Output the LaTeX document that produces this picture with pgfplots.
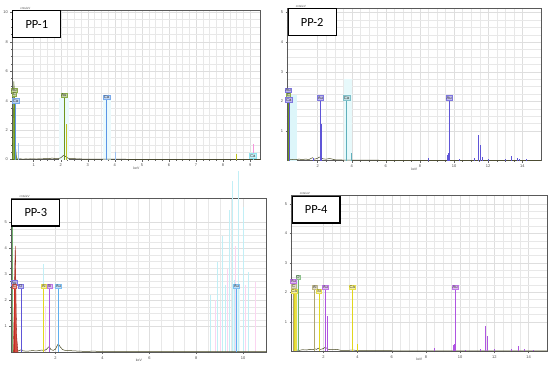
\documentclass[border=0pt]{standalone}
\usepackage{fontspec}
\setmainfont{Carlito}
\newfontfamily\arial{Liberation Sans}
\usepackage{pgfplots}
\pgfplotsset{compat=1.18}
\definecolor{base}{RGB}{70,70,30}
\definecolor{olive1}{RGB}{110,150,30}
\definecolor{blue1}{RGB}{90,150,230}
\definecolor{cyan1}{RGB}{120,220,235}
\definecolor{blue2}{RGB}{95,85,215}
\definecolor{red3}{RGB}{200,45,30}
\definecolor{yel}{RGB}{225,215,30}
\definecolor{purp}{RGB}{175,85,225}
\definecolor{khaki}{RGB}{175,165,110}
\definecolor{pinkA}{RGB}{245,150,220}
\pgfplotsset{
  eds/.style={scale only axis, anchor=south west, clip=false,
    axis line style={draw=black!65, line width=0.7pt},
    grid=both,
    major grid style={black!13, line width=0.3pt},
    minor grid style={black!9, line width=0.25pt},
    tick align=outside, major tick length=2bp, minor tick length=1bp,
    tick style={black!60, line width=0.3pt},
    xtick pos=bottom, ytick pos=left,
    /pgf/number format/assume math mode=true,
    tick label style={font=\arial\fontsize{4}{4}\selectfont, text=black!70},
    xticklabel style={yshift=1bp}, yticklabel style={xshift=1bp},
    ymin=0,
  },
  mk/.style={ycomb, draw=#1, solid, line width=0.6pt, mark=none, nodes near coords,
    point meta=explicit symbolic,
    every node near coord/.style={font=\arial\fontsize{4.2}{4.2}\selectfont, fill=#1!40, draw=#1!80, solid, inner sep=0.6bp, line width=0.3pt, anchor=south, text=black!80}},
  sp/.style={ycomb, draw=#1, solid, line width=0.55pt, mark=none},
}
\newcommand{\pplabel}[1]{\node[draw=black, line width=1.2pt, fill=white, minimum width=48bp, minimum height=27bp, anchor=north west, inner sep=0pt, font=\fontsize{12.5}{12.5}\selectfont] at (rel axis cs:0,1) {#1};}
\newcommand{\axlabels}{\node[font=\arial\fontsize{3}{3}\selectfont, text=black!70, anchor=south west, inner sep=0.5bp] at (rel axis cs:0.03,1) {cnts/eV};
\node[font=\arial\fontsize{3.5}{3.5}\selectfont, text=black!70, anchor=north, inner sep=0pt] at ([yshift=-7bp]rel axis cs:0.5,0) {keV};}
\begin{document}
\begin{tikzpicture}
\fill[white] (0bp,0bp) rectangle (550bp,367bp);
% ---------------- PP-1
\begin{axis}[eds, at={(11bp,207bp)}, width=249bp, height=150bp,
  xmin=0.21, xmax=9.39, ymax=10.15,
  xtick={1,...,9}, ytick={0,2,...,10}, minor x tick num=3, minor y tick num=3]
\addplot[fill=cyan1!15, draw=none] coordinates {(1.95,4.2)(2.3,4.2)} \closedcycle;
\addplot[fill=cyan1!15, draw=none] coordinates {(3.55,4.1)(3.85,4.1)} \closedcycle;
\addplot[fill=olive1!80, draw=olive1!60!black, line width=0.3pt] coordinates {(0.21,0)(0.23,1.5)(0.25,3.8)(0.27,5.3)(0.29,4.6)(0.31,2.5)(0.33,1.0)(0.36,0.3)(0.4,0)} \closedcycle;
\addplot[base, line width=0.5pt] coordinates {(0.4,0.04)(0.5,0.06)(0.6,0.03)(0.7,0.05)(0.8,0.04)(0.9,0.06)(1.0,0.05)(1.1,0.04)(1.2,0.06)(1.3,0.05)(1.4,0.07)(1.5,0.06)(1.6,0.08)(1.7,0.11)(1.8,0.06)(1.9,0.07)(2.0,0.12)(2.05,0.2)(2.1,0.28)(2.15,0.25)(2.2,0.2)(2.25,0.12)(2.3,0.08)(2.4,0.06)(2.5,0.07)(2.6,0.05)(2.7,0.06)(2.8,0.04)(3.0,0.04)(3.3,0.03)(3.6,0.03)(3.7,0.04)(4.0,0.03)(5,0.02)(6,0.02)(7,0.02)(8,0.02)(9,0.02)(9.39,0.02)};
\addplot[sp=blue1!60] coordinates {(0.45,1.1)(4.01,0.55)};
\addplot[sp=yel!70!olive1] coordinates {(2.2,2.4)(8.5,0.35)};
\addplot[sp=pinkA] coordinates {(9.1,1.05)};
\addplot[mk=olive1] coordinates {(0.28,4.55) [Au] (2.12,4.2) [Au]};
\addplot[mk=olive1] coordinates {(0.29,4.3) [C]};
\addplot[mk=blue1] coordinates {(0.33,3.85) [Ca] (3.69,4.1) [Ca]};
\addplot[mk=cyan1] coordinates {(9.1,0.12) [Ca]};
\pplabel{PP-1}
\axlabels
\end{axis}
% ---------------- PP-2
\begin{axis}[eds, at={(287bp,206bp)}, width=254bp, height=153bp,
  xmin=0.24, xmax=15.1, ymax=5.15,
  xtick={2,4,...,14}, ytick={1,...,5}, minor x tick num=3, minor y tick num=3]
\addplot[fill=cyan1!25, draw=none] coordinates {(0.24,2.2)(0.77,2.2)} \closedcycle;
\addplot[fill=cyan1!18, draw=none] coordinates {(3.55,2.75)(4.0,2.75)} \closedcycle;
\addplot[base, line width=0.5pt] coordinates {(0.3,0.05)(0.5,0.04)(0.7,0.03)(0.9,0.05)(1.1,0.04)(1.3,0.05)(1.5,0.04)(1.6,0.07)(1.7,0.1)(1.8,0.05)(1.9,0.06)(2.0,0.08)(2.1,0.12)(2.2,0.1)(2.3,0.06)(2.5,0.05)(2.7,0.07)(2.8,0.06)(3.0,0.03)(3.5,0.02)(4.5,0.02)(6,0.01)(8,0.01)(10,0.01)(12,0.01)(15.1,0.01)};
\addplot[sp=blue2] coordinates {(0.3,0.6)(2.2,1.25)(9.65,0.25)(9.6,0.2)(11.44,0.87)(11.56,0.53)(8.47,0.1)(10.3,0.06)(11.2,0.08)(11.65,0.12)(12.0,0.06)(13.0,0.07)(13.38,0.17)(13.7,0.08)(13.8,0.07)(14.25,0.05)(1.75,0.1)};
\addplot[sp=cyan1!80!black] coordinates {(4.0,0.27)};
\addplot[mk=blue2] coordinates {(0.27,2.3) [Au]};
\addplot[mk=olive1] coordinates {(0.29,2.12) [C]};
\addplot[mk=blue2] coordinates {(0.31,1.98) [Ca] (2.16,2.05) [Au] (9.71,2.05) [Au]};
\addplot[mk=cyan1!80!black] coordinates {(3.69,2.05) [Ca]};
\pplabel{PP-2}
\axlabels
\end{axis}
% ---------------- PP-3
\begin{axis}[eds, at={(10bp,14bp)}, width=256bp, height=154bp,
  xmin=0.11, xmax=11.0, ymax=5.93,
  xtick={2,4,...,10}, ytick={1,...,5}, minor x tick num=3, minor y tick num=3]
\addplot[fill=cyan1!18, draw=none] coordinates {(9.55,2.45)(9.85,2.45)} \closedcycle;
\addplot[sp=cyan1!45, line width=0.35pt] coordinates {(8.9,3.5)(9.1,4.5)(9.25,2.6)(9.4,5.5)(9.55,6.6)(9.8,7.0)(10.0,5.6)(10.2,3.1)(8.6,2.2)(1.45,3.4)(9.6,2.8)(0.15,4.5)};
\addplot[sp=pinkA!40, line width=0.35pt] coordinates {(8.8,2.0)(9.3,3.2)(9.65,4.1)(10.1,2.6)(10.5,2.7)(9.0,1.6)(1.55,1.8)};
\addplot[sp=olive1!60!cyan1] coordinates {(0.15,5.93)};
\addplot[fill=red3!85, draw=red3!70!black, line width=0.3pt] coordinates {(0.2,0)(0.23,1.5)(0.26,3.2)(0.28,4.1)(0.3,3.4)(0.32,1.6)(0.35,0.5)(0.4,0)} \closedcycle;
\addplot[base, line width=0.5pt] coordinates {(0.4,0.05)(0.5,0.08)(0.55,0.1)(0.6,0.05)(0.8,0.04)(1.0,0.06)(1.2,0.05)(1.4,0.08)(1.5,0.07)(1.6,0.1)(1.7,0.2)(1.75,0.18)(1.8,0.1)(1.9,0.07)(2.0,0.12)(2.05,0.22)(2.1,0.3)(2.15,0.28)(2.2,0.2)(2.3,0.1)(2.4,0.07)(2.6,0.06)(2.8,0.05)(3.0,0.04)(3.3,0.03)(3.6,0.04)(3.9,0.03)(4.5,0.02)(6,0.02)(8,0.02)(9.7,0.03)(11,0.02)};
\addplot[mk=blue2] coordinates {(0.22,2.6) [Au]};
\addplot[mk=red3] coordinates {(0.24,2.45) [C]};
\addplot[mk=blue2] coordinates {(0.52,2.45) [O]};
\addplot[mk=yel] coordinates {(1.49,2.45) [Al]};
\addplot[mk=purp] coordinates {(1.74,2.45) [Si]};
\addplot[mk=cyan1!80!blue] coordinates {(2.12,2.45) [Au] (9.71,2.45) [Au]};
\pplabel{PP-3}
\axlabels
\end{axis}
% ---------------- PP-4
\begin{axis}[eds, at={(291bp,15bp)}, width=256bp, height=156bp,
  xmin=0.14, xmax=15.08, ymax=5.28,
  xtick={2,4,...,14}, ytick={1,...,5}, minor x tick num=3, minor y tick num=3]
\addplot[fill=cyan1!20, draw=none] coordinates {(0.45,2.45)(0.6,2.45)} \closedcycle;
\addplot[fill=yel!80, draw=none] coordinates {(0.2,2.0)(0.45,2.0)} \closedcycle;
\addplot[base, line width=0.5pt] coordinates {(0.45,0.04)(0.6,0.03)(0.8,0.05)(1.0,0.04)(1.2,0.06)(1.4,0.05)(1.5,0.08)(1.6,0.06)(1.7,0.1)(1.8,0.06)(1.9,0.07)(2.0,0.09)(2.1,0.13)(2.2,0.1)(2.3,0.06)(2.5,0.05)(2.8,0.06)(3.0,0.03)(3.5,0.03)(3.7,0.04)(4.0,0.02)(5,0.02)(7,0.01)(9,0.01)(11,0.01)(13,0.01)(15.08,0.01)};
\addplot[sp=purp] coordinates {(2.2,1.2)(9.65,0.25)(9.6,0.2)(11.44,0.87)(11.56,0.5)(8.47,0.1)(13.38,0.17)(13.0,0.06)(13.75,0.07)(14.3,0.05)(11.2,0.08)(12.0,0.06)(10.3,0.05)};
\addplot[sp=yel] coordinates {(4.0,0.25)};
\addplot[mk=olive1!60!cyan1] coordinates {(0.52,2.45) [O]};
\addplot[mk=purp] coordinates {(0.24,2.3) [Au]};
\addplot[mk=khaki] coordinates {(0.26,2.12) [C]};
\addplot[mk=yel] coordinates {(0.29,1.95) [Ca]};
\addplot[mk=khaki] coordinates {(1.49,2.1) [Al]};
\addplot[mk=yel] coordinates {(1.74,1.95) [Si]};
\addplot[mk=purp] coordinates {(2.12,2.1) [Au] (9.71,2.1) [Au]};
\addplot[mk=yel] coordinates {(3.69,2.1) [Ca]};
\pplabel{PP-4}
\axlabels
\end{axis}
\end{tikzpicture}
\end{document}
